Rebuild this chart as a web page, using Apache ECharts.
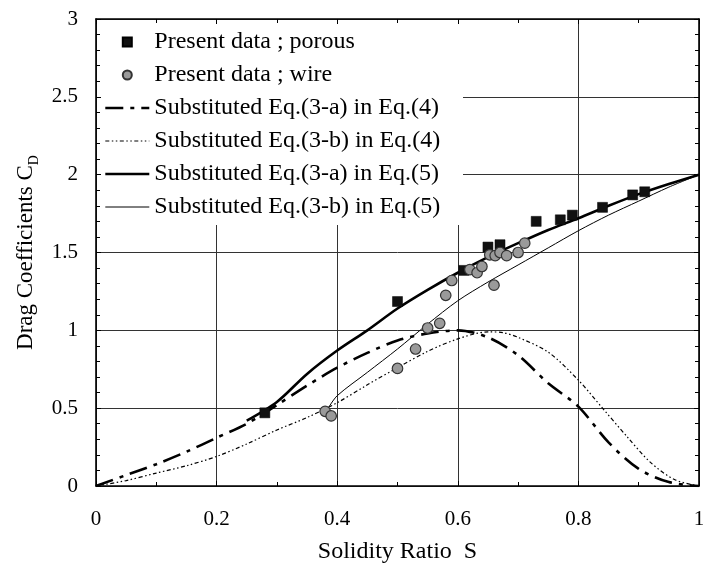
<!DOCTYPE html>
<html><head><meta charset="utf-8">
<script src="https://cdn.jsdelivr.net/npm/echarts@6/dist/echarts.min.js"></script>
<style>html,body{margin:0;padding:0;background:#fff}#c{width:709px;height:569px}</style>
</head><body><div id="c"></div>
<script>
// ---- data ----
const legendNames = [
  'Present data ; porous',
  'Present data ; wire',
  'Substituted Eq.(3-a) in Eq.(4)',
  'Substituted Eq.(3-b) in Eq.(4)',
  'Substituted Eq.(3-a) in Eq.(5)',
  'Substituted Eq.(3-b) in Eq.(5)'
];
const porous = [[0.28,0.47],[0.50,1.185],[0.61,1.385],[0.65,1.535],[0.67,1.55],[0.73,1.70],[0.77,1.71],[0.79,1.74],[0.84,1.79],[0.89,1.87],[0.91,1.89]];
const wire = [[0.38,0.48],[0.39,0.45],[0.50,0.755],[0.53,0.88],[0.55,1.015],[0.57,1.045],[0.58,1.225],[0.59,1.32],[0.62,1.39],[0.632,1.37],[0.64,1.41],[0.66,1.29],[0.653,1.485],[0.662,1.48],[0.67,1.50],[0.681,1.48],[0.70,1.50],[0.711,1.56]];
const eqA4 = [[0,0],[0.05,0.07],[0.1,0.14],[0.15,0.22],[0.2,0.31],[0.25,0.40],[0.3,0.52],[0.35,0.645],[0.4,0.76],[0.45,0.855],[0.5,0.935],[0.55,0.98],[0.6,1.0],[0.65,0.955],[0.7,0.84],[0.75,0.66],[0.8,0.51],[0.85,0.28],[0.9,0.11],[0.95,0.025],[1,0]];
const eqB4 = [[0,0],[0.05,0.035],[0.1,0.083],[0.15,0.13],[0.2,0.19],[0.25,0.27],[0.3,0.36],[0.35,0.44],[0.4,0.535],[0.45,0.65],[0.5,0.76],[0.55,0.865],[0.6,0.945],[0.65,0.99],[0.675,0.985],[0.7,0.955],[0.75,0.86],[0.8,0.68],[0.84,0.50],[0.88,0.32],[0.92,0.15],[0.96,0.04],[1,0]];
const eqA5 = [[0.25,0.42],[0.3,0.54],[0.35,0.72],[0.4,0.87],[0.45,1.0],[0.5,1.14],[0.55,1.26],[0.6,1.37],[0.65,1.47],[0.7,1.56],[0.75,1.645],[0.8,1.72],[0.85,1.80],[0.9,1.875],[0.95,1.94],[1,2.0]];
const eqB5 = [[0.385,0.50],[0.4,0.58],[0.45,0.73],[0.5,0.88],[0.55,1.04],[0.6,1.19],[0.65,1.31],[0.7,1.42],[0.75,1.53],[0.8,1.64],[0.85,1.74],[0.9,1.83],[0.95,1.92],[1,2.0]];
const xMin = 0, xMax = 1, xStep = 0.2;
const yMin = 0, yMax = 3, yStep = 0.5;

const FONT = 'Liberation Serif';
const chart = echarts.init(document.getElementById('c'), null, {renderer: 'canvas'});
const axisBase = {
  axisLine: {show: true, onZero: false, lineStyle: {color: '#000', width: 1.6}},
  axisTick: {show: true, inside: true, length: 5, lineStyle: {color: '#000'}},
  minorTick: {show: true, length: 4, lineStyle: {color: '#000'}}
};
const hiddenDot = {color: 'rgba(0,0,0,0)', opacity: 0};
chart.setOption({
  animation: false,
  backgroundColor: '#fff',
  grid: {left: 96, right: 10, top: 19, bottom: 81},
  graphic: [{
    type: 'rect', z: 2, silent: true,
    shape: {x: 101, y: 24, width: 362, height: 201},
    style: {fill: '#fff'}
  }],
  legend: {
    orient: 'vertical', left: 98, top: 20,
    padding: [10, 10, 7, 6],
    itemWidth: 44, itemHeight: 14, itemGap: 9,
    textStyle: {fontFamily: FONT, fontSize: 24, lineHeight: 24, color: '#000'},
    data: [
      {name: legendNames[0], icon: 'path://M0,0M14,14M2.5,2.5h9v9h-9z'},
      {name: legendNames[1], icon: 'path://M0,0M14,14M11.5,7A4.5,4.5,0,1,1,2.5,7A4.5,4.5,0,1,1,11.5,7z'},
      {name: legendNames[2], lineStyle: {width: 2.6}},
      {name: legendNames[3], lineStyle: {width: 1.2}},
      {name: legendNames[4], lineStyle: {width: 2.6}},
      {name: legendNames[5], lineStyle: {width: 1}}
    ]
  },
  xAxis: [
    Object.assign({}, axisBase, {
      type: 'value', min: xMin, max: xMax, interval: xStep,
      minorTick: Object.assign({}, axisBase.minorTick, {splitNumber: 2}),
      splitLine: {show: true, lineStyle: {color: '#333', width: 1}},
      axisLabel: {fontFamily: FONT, fontSize: 21, color: '#000', margin: 23},
      name: 'Solidity Ratio  S', nameLocation: 'middle', nameGap: 54,
      nameTextStyle: {fontFamily: FONT, fontSize: 24, color: '#000'}
    }),
    Object.assign({}, axisBase, {
      type: 'value', position: 'top', min: xMin, max: xMax, interval: xStep,
      minorTick: Object.assign({}, axisBase.minorTick, {splitNumber: 2}),
      splitLine: {show: false}, axisLabel: {show: false}
    })
  ],
  yAxis: [
    Object.assign({}, axisBase, {
      type: 'value', min: yMin, max: yMax, interval: yStep,
      minorTick: Object.assign({}, axisBase.minorTick, {splitNumber: 5}),
      splitLine: {show: true, lineStyle: {color: '#333', width: 1}},
      axisLabel: {fontFamily: FONT, fontSize: 21, color: '#000', margin: 18},
      name: '{a|Drag Coefficients C}{b|D}', nameLocation: 'middle', nameGap: 53,
      nameTextStyle: {
        fontFamily: FONT, fontSize: 23, color: '#000',
        rich: {
          a: {fontFamily: FONT, fontSize: 23, lineHeight: 30, verticalAlign: 'middle', color: '#000'},
          b: {fontFamily: FONT, fontSize: 14, lineHeight: 30, verticalAlign: 'bottom', color: '#000'}
        }
      }
    }),
    Object.assign({}, axisBase, {
      type: 'value', position: 'right', min: yMin, max: yMax, interval: yStep,
      minorTick: Object.assign({}, axisBase.minorTick, {splitNumber: 5}),
      splitLine: {show: false}, axisLabel: {show: false}
    })
  ],
  series: [
    {name: legendNames[2], type: 'line', data: eqA4, smooth: 0.3, symbol: 'none',
     itemStyle: hiddenDot,
     lineStyle: {color: '#000', width: 2.6, type: [18, 7, 4, 7]}, z: 3},
    {name: legendNames[3], type: 'line', data: eqB4, smooth: 0.3, symbol: 'none',
     itemStyle: hiddenDot,
     lineStyle: {color: '#000', width: 1.2, type: [4, 2.5, 1.5, 2.5, 1.5, 2.5]}, z: 3},
    {name: legendNames[4], type: 'line', data: eqA5, smooth: 0.3, symbol: 'none',
     itemStyle: hiddenDot,
     lineStyle: {color: '#000', width: 2.6}, z: 3},
    {name: legendNames[5], type: 'line', data: eqB5, smooth: 0.3, symbol: 'none',
     itemStyle: hiddenDot,
     lineStyle: {color: '#000', width: 1}, z: 3},
    {name: legendNames[0], type: 'scatter', data: porous, symbol: 'rect', symbolSize: 10,
     itemStyle: {color: '#111', borderColor: '#000', borderWidth: 0.5, opacity: 1}, z: 4},
    {name: legendNames[1], type: 'scatter', data: wire, symbol: 'circle', symbolSize: 10.5,
     itemStyle: {color: '#9a9a9a', borderColor: '#333', borderWidth: 1.2, opacity: 1}, z: 5}
  ]
});
</script></body></html>
